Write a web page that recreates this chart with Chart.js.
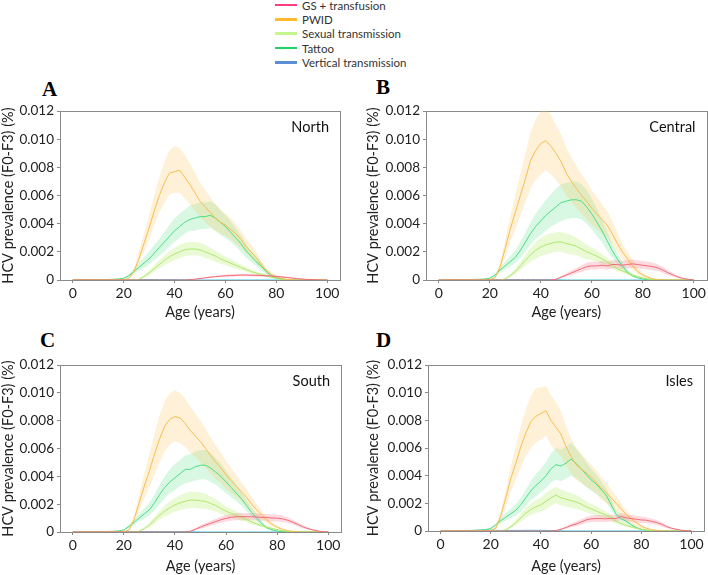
<!DOCTYPE html>
<html>
<head>
<meta charset="utf-8">
<script src="https://cdn.jsdelivr.net/npm/chart.js@4.4.1/dist/chart.umd.min.js"></script>
<style>
  body { margin: 0; background: #fff; width: 708px; height: 575px; position: relative; overflow: hidden; font-family: Lato, "Open Sans", sans-serif; }
  canvas { position: absolute; }
  .letter { position: absolute; font-family: "Liberation Serif", serif; font-weight: bold; font-size: 21px; line-height: 21px; color: #000; }
  #legend { position: absolute; left: 275px; top: -2px; font-size: 11.5px; color: #333; }
  .item { height: 14.3px; display: flex; align-items: center; white-space: nowrap; }
  .swatch { width: 22px; height: 2.5px; margin-right: 5px; }
</style>
</head>
<body>
<div id="legend"></div>
<div class="letter" style="left:42px;top:79px">A</div>
<div class="letter" style="left:376px;top:77px">B</div>
<div class="letter" style="left:40px;top:330px">C</div>
<div class="letter" style="left:376px;top:330px">D</div>
<canvas id="chartA" width="354" height="221" style="left:0;top:100px"></canvas>
<canvas id="chartB" width="354" height="221" style="left:354px;top:100px"></canvas>
<canvas id="chartC" width="354" height="221" style="left:0;top:354px"></canvas>
<canvas id="chartD" width="354" height="221" style="left:354px;top:354px"></canvas>
<script>
// ages (years), values in units of 0.001 %
const AGES = [0,2,4,6,8,10,12,14,16,18, 20,22,24,26,28,30,32,34,36,38, 40,42,44,46,48,50,52,54,56,58, 60,62,64,66,68,70,72,74,76,78, 80,82,84,86,88,90,92,94,96,98, 100];
const X_TICKS = [0, 20, 40, 60, 80, 100];
const Y_TICKS = [0, 2, 4, 6, 8, 10, 12];

const SERIES_NAMES = ["GS + transfusion", "PWID", "Sexual transmission", "Tattoo", "Vertical transmission"];
const LEGEND_COLORS = ["#ff3d7f", "#ffb92e", "#c6f68d", "#1fd565", "#5a8fd6"];
const LINE_COLORS = ["#f46a78", "#f8bd4e", "#aee86a", "#48de84", "#3fc4e4"];
const BAND_COLORS = ["rgba(244,110,130,0.25)", "rgba(253,200,95,0.25)", "rgba(180,238,105,0.28)", "rgba(80,225,130,0.22)", null];

// North
const NORTH_GS = [0,0,0,0,0,0,0,0,0,0, 0,0,0,0,0,0,0,0,0,0, 0,0,0,0.02,0.06,0.1,0.15,0.2,0.24,0.27, 0.3,0.32,0.33,0.35,0.35,0.34,0.33,0.32,0.3,0.28, 0.25,0.22,0.18,0.14,0.1,0.07,0.04,0.02,0.01,0, 0];
const NORTH_GS_HI = [0,0,0,0,0,0,0,0,0,0, 0,0,0,0,0,0,0,0,0,0, 0,0,0,0.03,0.09,0.14,0.2,0.26,0.31,0.35, 0.38,0.41,0.42,0.44,0.44,0.43,0.42,0.41,0.39,0.36, 0.33,0.29,0.24,0.19,0.14,0.1,0.06,0.03,0.015,0, 0];
const NORTH_GS_LO = [0,0,0,0,0,0,0,0,0,0, 0,0,0,0,0,0,0,0,0,0, 0,0,0,0.01,0.03,0.06,0.1,0.14,0.17,0.19, 0.22,0.23,0.24,0.26,0.26,0.25,0.24,0.23,0.21,0.2, 0.17,0.15,0.12,0.09,0.06,0.04,0.02,0.01,0.005,0, 0];
const NORTH_PWID = [0,0,0,0,0,0,0,0,0,0, 0.02,0.1,0.6,1.5,2.6,3.7,4.9,6.0,6.9,7.6, 7.7,7.8,7.3,6.8,6.2,5.6,5.2,4.8,4.4,4.1, 3.9,3.6,3.3,2.9,2.4,2.0,1.6,1.1,0.7,0.4, 0.2,0.1,0.05,0.02,0,0,0,0,0,0, 0];
const NORTH_PWID_HI = [0,0,0,0,0,0,0,0,0,0, 0.03,0.15,0.8,2.0,3.3,4.6,6.0,7.3,8.4,9.2, 9.5,9.4,8.9,8.3,7.6,6.9,6.4,5.9,5.4,5.0, 4.7,4.4,4.0,3.5,3.0,2.5,2.0,1.4,0.9,0.55, 0.3,0.15,0.07,0.03,0,0,0,0,0,0, 0];
const NORTH_PWID_LO = [0,0,0,0,0,0,0,0,0,0, 0.01,0.06,0.4,1.1,2.0,2.9,3.9,4.8,5.5,6.1, 6.2,6.2,5.8,5.4,4.9,4.5,4.1,3.8,3.5,3.3, 3.1,2.9,2.6,2.3,1.9,1.6,1.2,0.85,0.5,0.28, 0.13,0.06,0.03,0.01,0,0,0,0,0,0, 0];
const NORTH_SEX = [0,0,0,0,0,0,0,0,0,0, 0,0,0,0.05,0.25,0.5,0.8,1.1,1.4,1.65, 1.85,2.0,2.15,2.2,2.2,2.15,2.0,1.85,1.7,1.5, 1.35,1.2,1.05,0.9,0.75,0.6,0.5,0.4,0.3,0.2, 0.1,0.05,0.02,0,0,0,0,0,0,0, 0];
const NORTH_SEX_HI = [0,0,0,0,0,0,0,0,0,0, 0,0,0,0.08,0.35,0.65,1.05,1.4,1.75,2.05, 2.3,2.5,2.65,2.7,2.7,2.65,2.5,2.3,2.1,1.85, 1.65,1.5,1.3,1.1,0.95,0.75,0.62,0.5,0.38,0.26, 0.14,0.07,0.03,0,0,0,0,0,0,0, 0];
const NORTH_SEX_LO = [0,0,0,0,0,0,0,0,0,0, 0,0,0,0.03,0.16,0.35,0.58,0.82,1.05,1.25, 1.4,1.55,1.7,1.75,1.75,1.7,1.55,1.45,1.3,1.15, 1.05,0.92,0.8,0.7,0.57,0.46,0.38,0.3,0.22,0.14, 0.07,0.03,0.01,0,0,0,0,0,0,0, 0];
const NORTH_TATTOO = [0,0,0,0,0,0.02,0.03,0.04,0.05,0.07, 0.12,0.3,0.6,0.9,1.2,1.5,1.9,2.3,2.7,3.1, 3.5,3.8,4.1,4.3,4.4,4.5,4.5,4.6,4.4,4.1, 3.8,3.4,3.0,2.6,2.1,1.7,1.3,1.0,0.6,0.3, 0.15,0.07,0.03,0.01,0,0,0,0,0,0, 0];
const NORTH_TATTOO_HI = [0,0,0,0,0,0.03,0.04,0.05,0.07,0.1, 0.17,0.4,0.8,1.2,1.6,2.0,2.5,2.9,3.4,3.9, 4.4,4.7,5.0,5.3,5.4,5.5,5.5,5.6,5.4,5.0, 4.6,4.2,3.7,3.2,2.6,2.1,1.7,1.3,0.8,0.42, 0.22,0.1,0.05,0.02,0,0,0,0,0,0, 0];
const NORTH_TATTOO_LO = [0,0,0,0,0,0.01,0.02,0.03,0.03,0.05, 0.08,0.2,0.42,0.65,0.85,1.1,1.4,1.7,2.0,2.4, 2.7,3.0,3.3,3.5,3.5,3.6,3.6,3.7,3.5,3.2, 3.0,2.7,2.4,2.0,1.6,1.3,1.0,0.7,0.4,0.2, 0.09,0.04,0.02,0.005,0,0,0,0,0,0, 0];
const NORTH_VERT = [0.01,0.02,0.02,0.02,0.02,0.03,0.03,0.03,0.03,0.03, 0.03,0.03,0.03,0.03,0.03,0.03,0.03,0.03,0.03,0.03, 0.03,0.02,0.02,0.01,0,0,0,0,0,0, 0,0,0,0,0,0,0,0,0,0, 0,0,0,0,0,0,0,0,0,0, 0];

// Central
const CENTRAL_GS = [0,0,0,0,0,0,0,0,0,0, 0,0,0,0,0,0,0,0,0,0, 0,0,0,0.05,0.2,0.35,0.5,0.65,0.8,0.95, 1.0,1.0,1.05,1.0,1.1,1.1,1.05,1.1,1.15,1.1, 1.05,1.0,0.95,0.85,0.7,0.5,0.35,0.2,0.1,0.04, 0];
const CENTRAL_GS_HI = [0,0,0,0,0,0,0,0,0,0, 0,0,0,0,0,0,0,0,0,0, 0,0,0,0.08,0.28,0.48,0.68,0.85,1.05,1.22, 1.3,1.3,1.35,1.3,1.4,1.42,1.36,1.42,1.46,1.4, 1.35,1.3,1.22,1.1,0.92,0.68,0.48,0.28,0.14,0.06, 0];
const CENTRAL_GS_LO = [0,0,0,0,0,0,0,0,0,0, 0,0,0,0,0,0,0,0,0,0, 0,0,0,0.02,0.12,0.24,0.34,0.46,0.58,0.7, 0.74,0.75,0.78,0.74,0.82,0.82,0.78,0.82,0.86,0.82, 0.78,0.74,0.7,0.62,0.5,0.34,0.23,0.12,0.06,0.02, 0];
const CENTRAL_PWID = [0,0,0,0,0,0,0,0,0,0, 0.03,0.15,0.9,2.2,3.6,4.8,6.0,7.2,8.5,9.2, 9.7,9.9,9.5,9.0,8.4,7.6,7.0,6.5,6.0,5.6, 5.1,4.7,4.3,3.9,3.3,2.6,2.0,1.5,1.0,0.6, 0.35,0.2,0.08,0.03,0.01,0,0,0,0,0, 0];
const CENTRAL_PWID_HI = [0,0,0,0,0,0,0,0,0,0, 0.05,0.22,1.2,2.8,4.5,6.0,7.5,9.0,10.5,11.4, 12.0,12.2,11.7,11.0,10.3,9.4,8.7,8.1,7.5,7.0, 6.4,5.9,5.4,4.9,4.2,3.4,2.6,2.0,1.4,0.85, 0.5,0.28,0.12,0.05,0.02,0,0,0,0,0, 0];
const CENTRAL_PWID_LO = [0,0,0,0,0,0,0,0,0,0, 0.01,0.08,0.6,1.6,2.7,3.6,4.6,5.5,6.5,7.1, 7.5,7.8,7.5,7.1,6.6,6.0,5.5,5.1,4.7,4.3, 3.9,3.6,3.3,3.0,2.5,2.0,1.5,1.1,0.7,0.4, 0.22,0.12,0.05,0.02,0.005,0,0,0,0,0, 0];
const CENTRAL_SEX = [0,0,0,0,0,0,0,0,0,0, 0,0,0,0.08,0.3,0.6,1.0,1.4,1.8,2.1, 2.35,2.5,2.6,2.7,2.7,2.6,2.5,2.4,2.2,2.0, 1.85,1.7,1.5,1.3,1.05,0.8,0.65,0.5,0.35,0.25, 0.15,0.08,0.03,0.01,0,0,0,0,0,0, 0];
const CENTRAL_SEX_HI = [0,0,0,0,0,0,0,0,0,0, 0,0,0,0.12,0.42,0.8,1.3,1.8,2.3,2.7, 3.0,3.2,3.3,3.4,3.4,3.3,3.2,3.0,2.75,2.5, 2.3,2.1,1.85,1.6,1.3,1.0,0.8,0.62,0.45,0.3, 0.19,0.1,0.04,0.015,0,0,0,0,0,0, 0];
const CENTRAL_SEX_LO = [0,0,0,0,0,0,0,0,0,0, 0,0,0,0.05,0.2,0.42,0.72,1.0,1.3,1.5, 1.7,1.8,1.9,2.0,2.0,1.9,1.8,1.75,1.6,1.5, 1.4,1.3,1.15,1.0,0.8,0.6,0.5,0.38,0.26,0.18, 0.1,0.05,0.02,0.005,0,0,0,0,0,0, 0];
const CENTRAL_TATTOO = [0,0,0,0,0,0.02,0.03,0.04,0.05,0.07, 0.12,0.35,0.7,1.0,1.3,1.6,2.1,2.7,3.3,3.8, 4.2,4.6,4.9,5.2,5.5,5.6,5.7,5.7,5.6,5.2, 4.7,4.1,3.5,2.8,2.1,1.5,1.0,0.55,0.3,0.15, 0.07,0.03,0.01,0,0,0,0,0,0,0, 0];
const CENTRAL_TATTOO_HI = [0,0,0,0,0,0.03,0.04,0.05,0.07,0.1, 0.18,0.45,0.9,1.3,1.7,2.1,2.7,3.4,4.1,4.7, 5.2,5.7,6.1,6.5,6.8,6.9,7.0,7.0,6.8,6.4, 5.8,5.1,4.3,3.5,2.6,1.9,1.3,0.75,0.4,0.2, 0.1,0.04,0.015,0,0,0,0,0,0,0, 0];
const CENTRAL_TATTOO_LO = [0,0,0,0,0,0.01,0.02,0.03,0.03,0.05, 0.08,0.25,0.5,0.75,0.95,1.2,1.55,2.0,2.5,2.9, 3.2,3.5,3.8,4.0,4.2,4.3,4.4,4.4,4.3,4.0, 3.6,3.1,2.7,2.1,1.6,1.1,0.72,0.4,0.2,0.1, 0.04,0.02,0.005,0,0,0,0,0,0,0, 0];
const CENTRAL_VERT = [0,0.01,0.02,0.02,0.02,0.03,0.03,0.03,0.03,0.03, 0.03,0.03,0.03,0.03,0.03,0.03,0.03,0.03,0.03,0.03, 0.03,0.03,0.02,0.02,0.01,0,0,0,0,0, 0,0,0,0,0,0,0,0,0,0, 0,0,0,0,0,0,0,0,0,0, 0];

// South
const SOUTH_GS = [0,0,0,0,0,0,0,0,0,0, 0,0,0,0,0,0,0,0,0,0, 0,0,0,0.05,0.2,0.35,0.5,0.62,0.75,0.88, 0.98,1.05,1.1,1.1,1.1,1.1,1.08,1.05,1.05,1.0, 1.0,0.95,0.85,0.72,0.55,0.38,0.25,0.15,0.07,0.02, 0];
const SOUTH_GS_HI = [0,0,0,0,0,0,0,0,0,0, 0,0,0,0,0,0,0,0,0,0, 0,0,0,0.08,0.28,0.48,0.66,0.8,0.95,1.1, 1.22,1.3,1.36,1.36,1.36,1.36,1.34,1.3,1.3,1.25, 1.25,1.18,1.06,0.9,0.7,0.5,0.33,0.2,0.1,0.03, 0];
const SOUTH_GS_LO = [0,0,0,0,0,0,0,0,0,0, 0,0,0,0,0,0,0,0,0,0, 0,0,0,0.02,0.12,0.23,0.35,0.45,0.56,0.66, 0.75,0.8,0.84,0.84,0.84,0.84,0.82,0.8,0.8,0.76, 0.76,0.72,0.64,0.54,0.4,0.27,0.17,0.1,0.04,0.01, 0];
const SOUTH_PWID = [0,0,0,0,0,0,0,0,0,0, 0.03,0.15,0.9,2.1,3.3,4.4,5.6,6.7,7.6,8.1, 8.3,8.2,7.8,7.3,6.9,6.5,6.0,5.5,5.0,4.6, 4.1,3.7,3.3,2.9,2.5,2.0,1.6,1.2,0.85,0.55, 0.35,0.2,0.1,0.05,0.02,0,0,0,0,0, 0];
const SOUTH_PWID_HI = [0,0,0,0,0,0,0,0,0,0, 0.05,0.22,1.2,2.7,4.2,5.6,7.1,8.4,9.4,10.0, 10.2,10.0,9.6,9.0,8.5,8.0,7.4,6.8,6.2,5.7, 5.1,4.6,4.1,3.6,3.1,2.5,2.0,1.5,1.05,0.7, 0.45,0.26,0.13,0.06,0.025,0,0,0,0,0, 0];
const SOUTH_PWID_LO = [0,0,0,0,0,0,0,0,0,0, 0.01,0.08,0.6,1.5,2.4,3.2,4.1,5.0,5.8,6.3, 6.5,6.4,6.1,5.7,5.4,5.0,4.6,4.2,3.8,3.5, 3.1,2.8,2.5,2.2,1.9,1.5,1.2,0.9,0.63,0.4, 0.25,0.14,0.07,0.03,0.01,0,0,0,0,0, 0];
const SOUTH_SEX = [0,0,0,0,0,0,0,0,0,0, 0,0,0,0.06,0.25,0.5,0.85,1.2,1.5,1.75, 1.95,2.1,2.2,2.3,2.3,2.25,2.2,2.05,1.9,1.7, 1.5,1.35,1.2,1.05,0.9,0.72,0.58,0.45,0.35,0.25, 0.17,0.1,0.05,0.02,0.01,0,0,0,0,0, 0];
const SOUTH_SEX_HI = [0,0,0,0,0,0,0,0,0,0, 0,0,0,0.09,0.35,0.68,1.1,1.5,1.9,2.2, 2.45,2.65,2.8,2.9,2.9,2.85,2.75,2.55,2.35,2.1, 1.85,1.65,1.5,1.3,1.1,0.9,0.72,0.56,0.44,0.32, 0.22,0.13,0.07,0.03,0.015,0,0,0,0,0, 0];
const SOUTH_SEX_LO = [0,0,0,0,0,0,0,0,0,0, 0,0,0,0.04,0.16,0.34,0.6,0.9,1.12,1.3, 1.45,1.58,1.65,1.72,1.72,1.68,1.65,1.55,1.45,1.3, 1.15,1.05,0.92,0.8,0.7,0.55,0.44,0.34,0.26,0.18, 0.12,0.07,0.03,0.01,0.005,0,0,0,0,0, 0];
const SOUTH_TATTOO = [0,0,0,0,0,0.02,0.03,0.04,0.05,0.08, 0.15,0.4,0.7,1.0,1.3,1.6,2.1,2.7,3.2,3.6, 3.9,4.2,4.5,4.5,4.7,4.8,4.8,4.6,4.3,4.0, 3.6,3.2,2.8,2.4,1.9,1.4,1.0,0.6,0.3,0.15, 0.07,0.03,0.01,0,0,0,0,0,0,0, 0];
const SOUTH_TATTOO_HI = [0,0,0,0,0,0.03,0.04,0.05,0.07,0.11, 0.2,0.5,0.9,1.3,1.7,2.1,2.7,3.4,4.0,4.5, 4.9,5.2,5.5,5.6,5.8,5.9,5.9,5.7,5.3,4.9, 4.4,3.9,3.4,2.9,2.3,1.75,1.25,0.8,0.4,0.2, 0.1,0.04,0.015,0,0,0,0,0,0,0, 0];
const SOUTH_TATTOO_LO = [0,0,0,0,0,0.01,0.02,0.03,0.03,0.05, 0.1,0.28,0.5,0.75,0.95,1.2,1.55,2.0,2.4,2.8, 3.0,3.3,3.5,3.6,3.7,3.8,3.8,3.6,3.4,3.1, 2.8,2.5,2.2,1.9,1.5,1.1,0.78,0.45,0.22,0.1, 0.04,0.02,0.005,0,0,0,0,0,0,0, 0];
const SOUTH_VERT = [0,0.01,0.02,0.02,0.02,0.03,0.03,0.03,0.03,0.03, 0.03,0.03,0.03,0.03,0.03,0.03,0.03,0.03,0.03,0.03, 0.03,0.03,0.02,0.02,0.01,0,0,0,0,0, 0,0,0,0,0,0,0,0,0,0, 0,0,0,0,0,0,0,0,0,0, 0];

// Isles
const ISLES_GS = [0,0,0,0,0,0,0,0,0,0, 0,0,0,0,0,0,0,0,0,0, 0,0,0,0.03,0.12,0.25,0.4,0.5,0.65,0.8, 0.88,0.9,0.9,0.88,0.92,0.9,1.05,0.95,0.9,0.85, 0.8,0.78,0.7,0.62,0.5,0.32,0.2,0.12,0.05,0.02, 0];
const ISLES_GS_HI = [0,0,0,0,0,0,0,0,0,0, 0,0,0,0,0,0,0,0,0,0, 0,0,0,0.05,0.18,0.35,0.55,0.68,0.85,1.02, 1.12,1.15,1.15,1.12,1.18,1.15,1.3,1.2,1.15,1.1, 1.04,1.0,0.9,0.8,0.65,0.43,0.27,0.16,0.07,0.03, 0];
const ISLES_GS_LO = [0,0,0,0,0,0,0,0,0,0, 0,0,0,0,0,0,0,0,0,0, 0,0,0,0.01,0.07,0.16,0.27,0.34,0.46,0.58, 0.65,0.66,0.66,0.64,0.68,0.66,0.8,0.7,0.66,0.62, 0.58,0.56,0.5,0.44,0.35,0.22,0.13,0.08,0.03,0.01, 0];
const ISLES_PWID = [0,0,0,0,0,0,0,0,0,0, 0.04,0.2,1.1,2.4,3.8,4.9,6.1,7.1,7.9,8.3, 8.5,8.7,8.0,7.5,7.0,6.1,5.4,4.8,4.5,4.2, 3.9,3.5,3.1,2.8,2.4,2.0,1.6,1.2,0.9,0.6, 0.35,0.2,0.1,0.05,0.02,0,0,0,0,0, 0];
const ISLES_PWID_HI = [0,0,0,0,0,0,0,0,0,0, 0.06,0.3,1.4,3.0,4.7,6.1,7.6,8.8,9.8,10.3, 10.4,10.5,9.8,9.3,8.7,7.6,6.7,6.0,5.6,5.2, 4.8,4.4,3.9,3.5,3.0,2.5,2.0,1.5,1.1,0.75, 0.45,0.26,0.13,0.06,0.025,0,0,0,0,0, 0];
const ISLES_PWID_LO = [0,0,0,0,0,0,0,0,0,0, 0.02,0.1,0.7,1.7,2.8,3.7,4.6,5.4,6.0,6.4, 6.6,6.9,6.2,5.8,5.4,4.7,4.2,3.7,3.5,3.2, 3.0,2.7,2.3,2.0,1.7,1.4,1.0,0.75,0.5,0.3, 0.18,0.1,0.05,0.02,0.005,0,0,0,0,0, 0];
const ISLES_SEX = [0,0,0,0,0,0,0,0,0,0, 0,0,0,0.08,0.3,0.6,0.95,1.3,1.55,1.75, 1.9,2.15,2.4,2.6,2.4,2.3,2.2,2.1,1.95,1.75, 1.6,1.45,1.3,1.15,0.95,0.7,0.55,0.4,0.3,0.2, 0.12,0.06,0.03,0.01,0,0,0,0,0,0, 0];
const ISLES_SEX_HI = [0,0,0,0,0,0,0,0,0,0, 0,0,0,0.12,0.42,0.8,1.25,1.7,2.0,2.25, 2.45,2.75,3.0,3.2,3.0,2.85,2.75,2.6,2.4,2.15, 1.95,1.8,1.6,1.4,1.15,0.88,0.68,0.5,0.38,0.26, 0.16,0.08,0.04,0.015,0,0,0,0,0,0, 0];
const ISLES_SEX_LO = [0,0,0,0,0,0,0,0,0,0, 0,0,0,0.05,0.2,0.42,0.68,0.95,1.15,1.3, 1.4,1.6,1.8,2.0,1.85,1.75,1.68,1.6,1.5,1.35, 1.25,1.1,1.0,0.9,0.75,0.54,0.42,0.3,0.22,0.14, 0.08,0.04,0.02,0.005,0,0,0,0,0,0, 0];
const ISLES_TATTOO = [0,0,0,0,0,0.02,0.03,0.05,0.07,0.1, 0.18,0.45,0.75,1.0,1.25,1.5,1.9,2.4,2.9,3.3, 3.6,4.0,4.5,4.8,4.7,4.9,5.2,4.9,4.5,4.1, 3.7,3.4,3.0,2.6,1.9,1.2,0.9,0.7,0.45,0.25, 0.12,0.05,0.02,0,0,0,0,0,0,0, 0];
const ISLES_TATTOO_HI = [0,0,0,0,0,0.03,0.05,0.07,0.1,0.14, 0.25,0.55,0.95,1.3,1.6,1.95,2.4,3.0,3.6,4.1, 4.5,5.0,5.6,6.0,5.9,6.1,6.4,6.0,5.5,5.0, 4.5,4.1,3.6,3.1,2.3,1.5,1.1,0.85,0.55,0.32, 0.16,0.07,0.03,0,0,0,0,0,0,0, 0];
const ISLES_TATTOO_LO = [0,0,0,0,0,0.01,0.02,0.03,0.04,0.06, 0.12,0.32,0.55,0.75,0.92,1.1,1.4,1.8,2.2,2.5, 2.8,3.1,3.5,3.7,3.6,3.8,4.0,3.8,3.5,3.2, 2.9,2.7,2.4,2.1,1.5,0.95,0.7,0.55,0.35,0.18, 0.08,0.03,0.01,0,0,0,0,0,0,0, 0];
const ISLES_VERT = [0,0.01,0.02,0.02,0.03,0.03,0.04,0.05,0.05,0.06, 0.06,0.05,0.04,0.04,0.04,0.04,0.04,0.05,0.05,0.05, 0.05,0.04,0.03,0.02,0.01,0,0,0,0,0, 0,0,0,0,0,0,0,0,0,0, 0,0,0,0,0,0,0,0,0,0, 0];

const PANELS = [
  { id: "chartA", region: "North",
    series: [[NORTH_GS, NORTH_GS_LO, NORTH_GS_HI], [NORTH_PWID, NORTH_PWID_LO, NORTH_PWID_HI], [NORTH_SEX, NORTH_SEX_LO, NORTH_SEX_HI], [NORTH_TATTOO, NORTH_TATTOO_LO, NORTH_TATTOO_HI], [NORTH_VERT]],
    box: { yw: 60, xh: 41, top: 8, right: 14, titlePad: 0 } },
  { id: "chartB", region: "Central",
    series: [[CENTRAL_GS, CENTRAL_GS_LO, CENTRAL_GS_HI], [CENTRAL_PWID, CENTRAL_PWID_LO, CENTRAL_PWID_HI], [CENTRAL_SEX, CENTRAL_SEX_LO, CENTRAL_SEX_HI], [CENTRAL_TATTOO, CENTRAL_TATTOO_LO, CENTRAL_TATTOO_HI], [CENTRAL_VERT]],
    box: { yw: 72, xh: 41, top: 8, right: 1, titlePad: 11 } },
  { id: "chartC", region: "South",
    series: [[SOUTH_GS, SOUTH_GS_LO, SOUTH_GS_HI], [SOUTH_PWID, SOUTH_PWID_LO, SOUTH_PWID_HI], [SOUTH_SEX, SOUTH_SEX_LO, SOUTH_SEX_HI], [SOUTH_TATTOO, SOUTH_TATTOO_LO, SOUTH_TATTOO_HI], [SOUTH_VERT]],
    box: { yw: 60, xh: 43, top: 8, right: 13, titlePad: 0 } },
  { id: "chartD", region: "Isles",
    series: [[ISLES_GS, ISLES_GS_LO, ISLES_GS_HI], [ISLES_PWID, ISLES_PWID_LO, ISLES_PWID_HI], [ISLES_SEX, ISLES_SEX_LO, ISLES_SEX_HI], [ISLES_TATTOO, ISLES_TATTOO_LO, ISLES_TATTOO_HI], [ISLES_VERT]],
    box: { yw: 74, xh: 44, top: 8, right: 4, titlePad: 11 } },
];

// legend (shared)
const legend = document.getElementById("legend");
SERIES_NAMES.forEach((name, k) => {
  const item = document.createElement("div");
  item.className = "item";
  item.innerHTML = '<span class="swatch" style="background:' + LEGEND_COLORS[k] + '"></span>' + name;
  legend.appendChild(item);
});

function pts(vals) {
  return AGES.map((a, i) => ({ x: a, y: vals[i] }));
}

function buildDatasets(series) {
  const sets = [];
  // bands first (lo, then hi filled down to lo)
  series.forEach((s, k) => {
    if (s.length < 3) return;
    sets.push({ label: SERIES_NAMES[k] + " lo", data: pts(s[1]), borderColor: "rgba(0,0,0,0)", borderWidth: 0, fill: false, order: 2 });
    sets.push({ label: SERIES_NAMES[k] + " hi", data: pts(s[2]), borderColor: "rgba(0,0,0,0)", borderWidth: 0, fill: "-1", backgroundColor: BAND_COLORS[k], order: 2 });
  });
  series.forEach((s, k) => {
    sets.push({ label: SERIES_NAMES[k], data: pts(s[0]), borderColor: LINE_COLORS[k], borderWidth: 1, fill: false, order: 1 });
  });
  return sets;
}

// gray box round the plot (under the lines) + region name in the corner
const framePlugin = {
  id: "frame",
  beforeDatasetsDraw(chart) {
    const { ctx, chartArea: a } = chart;
    ctx.save();
    ctx.strokeStyle = "#8a8a8a";
    ctx.lineWidth = 1;
    ctx.strokeRect(Math.round(a.left) + 0.5, Math.round(a.top) + 0.5, Math.round(a.right - a.left), Math.round(a.bottom - a.top));
    ctx.restore();
  }
};
const regionPlugin = {
  id: "region",
  afterDatasetsDraw(chart, args, opts) {
    const { ctx, chartArea: a } = chart;
    ctx.save();
    ctx.font = "14.5px Lato, 'Open Sans', sans-serif";
    ctx.fillStyle = "#111";
    ctx.textAlign = "right";
    ctx.textBaseline = "middle";
    ctx.fillText(opts.text, a.right - 11, a.top + 16);
    ctx.restore();
  }
};

PANELS.forEach((p) => {
  const b = p.box;
  new Chart(document.getElementById(p.id), {
    type: "line",
    data: { datasets: buildDatasets(p.series) },
    options: {
      responsive: false,
      animation: false,
      layout: { padding: { top: b.top, right: b.right, left: 0, bottom: 0 } },
      elements: { point: { radius: 0 }, line: { tension: 0 } },
      plugins: {
        legend: { display: false },
        tooltip: { enabled: false },
        region: { text: p.region },
      },
      scales: {
        x: {
          type: "linear", min: -5, max: 105,
          afterBuildTicks: (s) => { s.ticks = X_TICKS.map((v) => ({ value: v })); },
          afterFit: (s) => { s.height = b.xh; },
          border: { display: false },
          grid: { drawOnChartArea: false, drawTicks: true, tickLength: 3, color: "#8a8a8a" },
          ticks: { color: "#222", padding: 2, maxRotation: 0, font: { family: "Lato", size: 14 } },
          title: { display: true, text: "Age (years)", color: "#222", padding: 0, font: { family: "Lato", size: 14.5 } },
        },
        y: {
          min: 0, max: 12,
          afterBuildTicks: (s) => { s.ticks = Y_TICKS.map((v) => ({ value: v })); },
          afterFit: (s) => { s.width = b.yw; },
          border: { display: false },
          grid: { drawOnChartArea: false, drawTicks: true, tickLength: 3, color: "#8a8a8a" },
          ticks: {
            color: "#222", padding: 3, font: { family: "Lato", size: 13.5 },
            callback: (v) => (v === 0 ? "0" : (v / 1000).toFixed(3)),
          },
          title: { display: true, text: "HCV prevalence (F0-F3) (%)", color: "#222", padding: { top: b.titlePad, bottom: 0 }, font: { family: "Lato", size: 14.5 } },
        },
      },
    },
    plugins: [framePlugin, regionPlugin],
  });
});
</script>
</body>
</html>
